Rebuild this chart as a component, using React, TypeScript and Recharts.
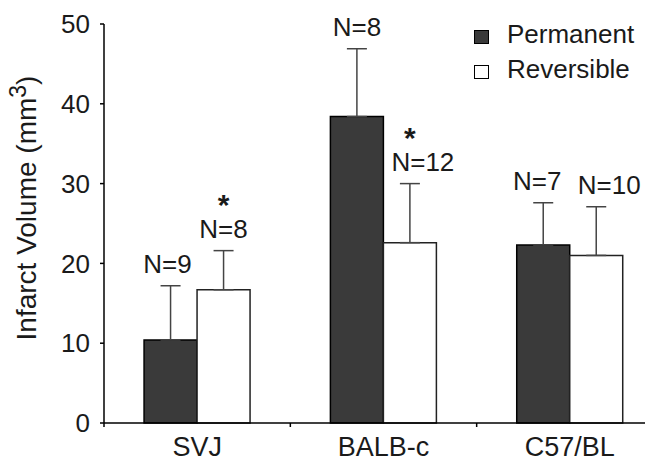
import { BarChart, Bar, XAxis, YAxis, ErrorBar, LabelList, Legend } from "recharts";

const categories = ["SVJ", "BALB-c", "C57/BL"];
const permanent = [10.4, 38.4, 22.3];
const permanentErr = [6.8, 8.5, 5.3];
const reversible = [16.7, 22.6, 21.0];
const reversibleErr = [4.9, 7.4, 6.1];
const permanentN = ["N=9", "N=8", "N=7"];
const reversibleN = ["N=8", "N=12", "N=10"];
const reversibleStar = [true, true, false];
const yTicks = [0, 10, 20, 30, 40, 50];

const data = categories.map((name, i) => ({
  name,
  permanent: permanent[i],
  permanentErr: [0, permanentErr[i]],
  reversible: reversible[i],
  reversibleErr: [0, reversibleErr[i]],
}));

const FONT = "'Liberation Sans', Arial, sans-serif";
const INK = "#1a1a1a";
const DARK = "#3a3a3a";

// small horizontal nudges so neighbouring labels don't collide (as in the original)
const permNudge = [-3, 0, -6];
const revNudge = [0, 13, 13];

function nLabel(means: number[], errs: number[], texts: string[], nudge: number[], stars?: boolean[]) {
  return (props: any) => {
    const { x, y, width, height, index } = props;
    const perUnit = height / means[index];
    const top = y - errs[index] * perUnit;
    const cx = x + width / 2;
    const base = top - 13;
    return (
      <g>
        <text x={cx + nudge[index]} y={base} textAnchor="middle" fontSize={26} fontFamily={FONT} fill={INK}>
          {texts[index]}
        </text>
        {stars && stars[index] ? (
          <text x={cx} y={base - 23} textAnchor="middle" fontSize={30} fontWeight="bold" fontFamily={FONT} fill={INK}>
            *
          </text>
        ) : null}
      </g>
    );
  };
}

function CategoryTick(props: any) {
  const { x, y, payload } = props;
  const half = payload?.offset ?? 0;
  return (
    <g>
      <line x1={x - half} x2={x - half} y1={y - 14} y2={y - 10} stroke="#000" strokeWidth={1.5} />
      <text x={x} y={y} dy="0.71em" textAnchor="middle" fontSize={27} fontFamily={FONT} fill={INK}>
        {payload.value}
      </text>
    </g>
  );
}

function LegendBox(props: any) {
  const fills: Record<string, string> = { Permanent: DARK, Reversible: "#fff" };
  const items = props.payload || [];
  return (
    <svg width={175} height={90}>
      {items.map((item: any, i: number) => (
        <g key={item.value}>
          <rect x={4.5} y={16.5 + i * 35} width={14} height={13} fill={fills[item.value]} stroke="#000" strokeWidth={1} />
          <text x={37} y={29 + i * 35} fontSize={26} fontFamily={FONT} fill={INK}>
            {item.value}
          </text>
        </g>
      ))}
    </svg>
  );
}

function YTitle() {
  return (
    <text
      x={26}
      y={208}
      transform="rotate(-90 26 208)"
      textAnchor="middle"
      dominantBaseline="central"
      fontSize={28}
      fontFamily={FONT}
      fill={INK}
    >
      Infarct Volume (mm
      <tspan fontSize={23} dy={-8}>3</tspan>
      <tspan dy={8}>)</tspan>
    </text>
  );
}

export default function App() {
  return (
    <div style={{ position: "absolute", left: 0, top: 0, width: 645, height: 460, overflow: "hidden", background: "#fff" }}>
      <BarChart
        width={670}
        height={460}
        data={data}
        margin={{ top: 24, right: 7, bottom: 0, left: 0 }}
        barGap={0}
        barCategoryGap="21.5%"
      >
        <XAxis
          dataKey="name"
          height={37}
          tickLine={false}
          tickSize={0}
          tickMargin={14}
          axisLine={{ stroke: "#000", strokeWidth: 1.5 }}
          tick={<CategoryTick />}
          interval={0}
        />
        <YAxis
          width={104}
          domain={[0, 50]}
          ticks={yTicks}
          tickSize={4}
          tickMargin={10}
          axisLine={{ stroke: "#000", strokeWidth: 1.5 }}
          tickLine={{ stroke: "#000", strokeWidth: 1.5 }}
          tick={{ fontSize: 26, fontFamily: FONT, fill: INK }}
          label={<YTitle />}
        />
        <Legend
          layout="vertical"
          align="center"
          verticalAlign="middle"
          wrapperStyle={{ top: 14, left: 470, width: 175, height: 90 }}
          content={<LegendBox />}
        />
        <Bar dataKey="permanent" name="Permanent" fill={DARK} stroke="#000" strokeWidth={1.5} isAnimationActive={false}>
          <ErrorBar dataKey="permanentErr" width={10} stroke="#444" strokeWidth={1.5} direction="y" />
          <LabelList dataKey="permanent" content={nLabel(permanent, permanentErr, permanentN, permNudge)} />
        </Bar>
        <Bar dataKey="reversible" name="Reversible" fill="#fff" stroke="#222" strokeWidth={1.5} isAnimationActive={false}>
          <ErrorBar dataKey="reversibleErr" width={10} stroke="#444" strokeWidth={1.5} direction="y" />
          <LabelList dataKey="reversible" content={nLabel(reversible, reversibleErr, reversibleN, revNudge, reversibleStar)} />
        </Bar>
      </BarChart>
    </div>
  );
}
